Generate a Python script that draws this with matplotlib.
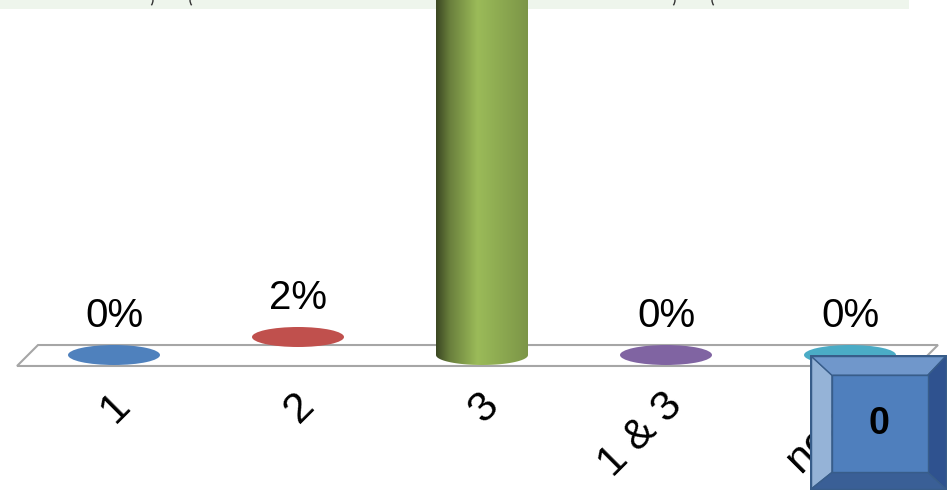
import numpy as np
import matplotlib.pyplot as plt
from matplotlib.patches import Ellipse, Polygon, PathPatch, Rectangle, Arc
from matplotlib.path import Path
from matplotlib.colors import LinearSegmentedColormap

categories = ['1', '2', '3', '1 & 3', 'none']
values = [0, 2, 98, 0, 0]
labels = ['0%', '2%', '98%', '0%', '0%']
colors = ['#4f81bd', '#c0504d', '#9bbb59', '#8064a2', '#4bacc6']
box_text = '0'

plt.rcParams['font.family'] = ['Liberation Sans', 'DejaVu Sans']

W, H = 952, 490
fig = plt.figure(figsize=(W / 100, H / 100), dpi=100)

# pixel-space layer for decorations
deco = fig.add_axes([0, 0, 1, 1])
deco.set_xlim(0, W)
deco.set_ylim(H, 0)
deco.axis('off')
deco.add_patch(Rectangle((0, 0), 909, 9, facecolor='#eef5ec', edgecolor='none'))
for cx, t1, t2 in [(140, -25, 25), (203, 155, 205), (662, -25, 25), (725, 155, 205)]:
    deco.add_patch(Arc((cx, 0), 26, 22, theta1=t1, theta2=t2, color='#333333', lw=1.0))

# data axes: category index on x, percent on y
ax = fig.add_axes([0, 0, 1, 1], facecolor='none')
ax.set_xlim(-114 / 184, (W - 114) / 184)
ax.set_ylim(-135 / 9, 355 / 9)
ax.axis('off')

# floor
floor = Polygon([(-0.527, -1.22), (-0.413, 1.11), (4.478, 1.11), (4.364, -1.22)],
                closed=True, facecolor='white', edgecolor='#a6a6a6', lw=1.5, zorder=1)
ax.add_patch(floor)

bw = 0.5    # bar width in category units
eh = 20 / 9  # ellipse height in percent units


def shade(c, f):
    rgb = np.array(plt.matplotlib.colors.to_rgb(c))
    return tuple(np.clip(rgb * f, 0, 1))


for i, (v, c) in enumerate(zip(values, colors)):
    x0, x1 = i - bw / 2, i + bw / 2
    if v > 5:
        t = np.linspace(np.pi, 2 * np.pi, 60)
        arc = [(i + bw / 2 * np.cos(a), eh / 2 * np.sin(a)) for a in t]
        verts = [(x0, v)] + arc + [(x1, v), (x0, v)]
        clip = PathPatch(Path(verts, closed=True), facecolor='none', edgecolor='none')
        ax.add_patch(clip)
        cmap = LinearSegmentedColormap.from_list(
            'cyl', [(0, shade(c, 0.38)), (0.15, shade(c, 0.68)), (0.45, c), (1, shade(c, 0.8))])
        grad = np.linspace(0, 1, 256).reshape(1, -1)
        im = ax.imshow(grad, cmap=cmap, aspect='auto', extent=[x0, x1, -eh / 2, v],
                       zorder=2, interpolation='bilinear')
        im.set_clip_path(clip)
    else:
        ax.add_patch(Ellipse((i, v), bw, eh, facecolor=c, edgecolor='none', zorder=2))
    ax.annotate(labels[i], (i, v), xytext=(0, 28 * 0.72), textcoords='offset points',
                ha='center', va='baseline', fontsize=29, color='black', zorder=3)
    ax.text(i + 0.055, -4.9, categories[i], rotation=45, rotation_mode='anchor',
            ha='right', va='center', fontsize=31, color='black', zorder=3)

# bevelled box in the corner
bx = fig.add_axes([810 / W, 0, 137 / W, 135 / H])
bx.set_xlim(0, 1)
bx.set_ylim(0, 1)
bx.axis('off')
o = [(0, 0), (0, 1), (1, 1), (1, 0)]
n = [(0.16, 0.13), (0.16, 0.85), (0.86, 0.85), (0.86, 0.13)]
bx.add_patch(Polygon([o[0], o[1], n[1], n[0]], facecolor='#95b3d7', edgecolor='#385d8a', lw=1))
bx.add_patch(Polygon([o[1], o[2], n[2], n[1]], facecolor='#7097cb', edgecolor='#385d8a', lw=1))
bx.add_patch(Polygon([o[2], o[3], n[3], n[2]], facecolor='#2f528f', edgecolor='#385d8a', lw=1))
bx.add_patch(Polygon([o[3], o[0], n[0], n[3]], facecolor='#3a5f96', edgecolor='#385d8a', lw=1))
bx.add_patch(Polygon(n, facecolor='#4f7fbd', edgecolor='#385d8a', lw=1))
bx.add_patch(Rectangle((0, 0), 1, 1, facecolor='none', edgecolor='#385d8a', lw=2.5))
bx.text(0.5, 0.49, box_text, ha='center', va='center', fontsize=27, fontweight='bold', color='black')

fig.savefig('out.png', dpi=100)
